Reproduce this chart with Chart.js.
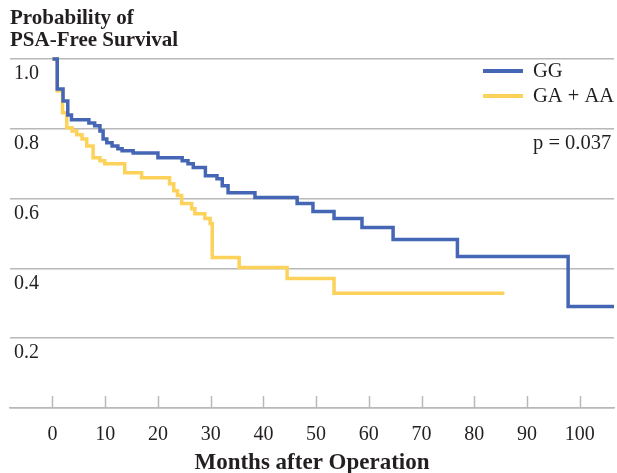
<!DOCTYPE html>
<html>
<head>
<meta charset="utf-8">
<script src="https://cdn.jsdelivr.net/npm/chart.js@4.4.1/dist/chart.umd.min.js"></script>
<style>
  html, body { margin: 0; padding: 0; background: #fff; }
  #wrap { width: 617px; height: 473px; }
</style>
</head>
<body>
<div id="wrap"><canvas id="km"></canvas></div>
<script>
// Kaplan-Meier style step curves, PSA-free survival by genotype.
// Each point = (month of event, survival right after it); last point is the
// end of follow-up.

const GG_MONTHS = [0, 0.9, 2.0, 2.9, 3.6, 6.9, 8.0, 9.0, 9.6, 10.3, 11.3, 12.4, 13.2, 15.3,
  20.0, 24.6, 25.7, 26.7, 29.0, 31.2, 32.2, 33.3, 38.4, 46.4, 49.4, 53.4, 58.7, 64.6,
  76.8, 97.8, 106.5]
const GG_SURV = [1.0, 0.914, 0.88, 0.84, 0.826, 0.817, 0.809, 0.794, 0.771, 0.76, 0.751, 0.743,
  0.737, 0.731, 0.717, 0.709, 0.70, 0.689, 0.666, 0.657, 0.637, 0.617, 0.603, 0.586, 0.563,
  0.543, 0.517, 0.483, 0.434, 0.291, 0.291]

const GA_MONTHS = [0, 0.9, 1.9, 2.7, 3.7, 4.6, 5.6, 6.5, 7.7, 9.0, 9.9, 13.7, 16.9, 22.2,
  23.0, 23.7, 24.5, 26.4, 27.0, 28.9, 29.9, 30.3, 35.4, 44.5, 53.4, 85.7]
const GA_SURV = [1.0, 0.909, 0.846, 0.803, 0.794, 0.783, 0.771, 0.751, 0.717, 0.709, 0.70, 0.674,
  0.66, 0.643, 0.623, 0.609, 0.586, 0.571, 0.557, 0.543, 0.529, 0.431, 0.403, 0.371, 0.329,
  0.329]

const SERIES_LABELS = ["GG", "GA + AA"]
const X_TICKS = [0, 10, 20, 30, 40, 50, 60, 70, 80, 90, 100]
const Y_TICKS = [0, 0.2, 0.4, 0.6, 0.8, 1.0]
const TITLE_LINES = ["Probability of", "PSA-Free Survival"]
const X_TITLE = "Months after Operation"
const P_TEXT = "p = 0.037"

const SERIF = '"Liberation Serif", "Times New Roman", Times, serif'
const INK = "#231f20"
const GRID = "#b8b8b8"
const BLUE = "#4566b5"
const GOLD = "#fdd25a"

const pts = (xs, ys) => xs.map((x, i) => ({ x, y: ys[i] }))

// small upward tick marks sitting on the x axis line
const xTickMarks = {
  id: "xTickMarks",
  afterDraw(chart) {
    const { ctx, chartArea, scales } = chart
    ctx.save()
    ctx.strokeStyle = GRID
    ctx.lineWidth = 1.5
    scales.x.ticks.forEach((t) => {
      const px = Math.round(scales.x.getPixelForValue(t.value)) + 0.5
      ctx.beginPath()
      ctx.moveTo(px, chartArea.bottom)
      ctx.lineTo(px, chartArea.bottom - 12)
      ctx.stroke()
    })
    ctx.restore()
  },
}

// legend + p value, stacked in the upper right corner of the plot
const cornerLegend = {
  id: "cornerLegend",
  afterDraw(chart) {
    const { ctx, chartArea } = chart
    const x0 = chartArea.right - 131
    ctx.save()
    ctx.font = `20.5px ${SERIF}`
    ctx.fillStyle = INK
    ctx.textBaseline = "middle"
    chart.data.datasets.forEach((ds, i) => {
      const y = chartArea.top + 12 + i * 25
      ctx.strokeStyle = ds.borderColor
      ctx.lineWidth = 4
      ctx.beginPath()
      ctx.moveTo(x0, y)
      ctx.lineTo(x0 + 40, y)
      ctx.stroke()
      ctx.fillText(ds.label, x0 + 50, y + 1)
    })
    ctx.fillText(P_TEXT, x0 + 50, chartArea.top + 85)
    ctx.restore()
  },
}

new Chart(document.getElementById("km"), {
  type: "line",
  data: {
    datasets: [
      { label: SERIES_LABELS[0], data: pts(GG_MONTHS, GG_SURV), borderColor: BLUE },
      { label: SERIES_LABELS[1], data: pts(GA_MONTHS, GA_SURV), borderColor: GOLD },
    ].map((d) => ({ ...d, stepped: "before", borderWidth: 3.5, pointRadius: 0, fill: false, clip: 6 })),
  },
  options: {
    responsive: true,
    maintainAspectRatio: false,
    animation: false,
    layout: { padding: { left: 10, right: 3, top: 0, bottom: 0 } },
    plugins: {
      legend: { display: false },
      tooltip: { enabled: false },
      title: {
        display: true,
        text: TITLE_LINES,
        align: "start",
        color: INK,
        font: { family: SERIF, size: 21, weight: "bold", lineHeight: 1.05 },
        padding: { top: 8, bottom: 7 },
      },
    },
    scales: {
      x: {
        type: "linear",
        min: -8.06,
        max: 106.5,
        afterBuildTicks: (s) => { s.ticks = X_TICKS.map((v) => ({ value: v })) },
        afterFit: (s) => { s.height = 65 },
        grid: { drawOnChartArea: false, drawTicks: false },
        border: { color: GRID, width: 1.5 },
        ticks: { color: INK, padding: 15, font: { family: SERIF, size: 20 } },
        title: {
          display: true,
          text: X_TITLE,
          color: INK,
          font: { family: SERIF, size: 23, weight: "bold", lineHeight: 0.85 },
          padding: { top: 6, bottom: 0 },
        },
      },
      y: {
        min: 0,
        max: 1,
        afterBuildTicks: (s) => { s.ticks = Y_TICKS.map((v) => ({ value: v })) },
        afterFit: (s) => { s.width = 0 },
        grid: { color: GRID, lineWidth: 1.5, drawTicks: false },
        border: { display: false },
        ticks: {
          mirror: true,
          padding: 4,
          labelOffset: 15,
          color: INK,
          font: { family: SERIF, size: 20 },
          callback: (v) => (v === 0 ? "" : v.toFixed(1)),
        },
      },
    },
  },
  plugins: [xTickMarks, cornerLegend],
})
</script>
</body>
</html>
